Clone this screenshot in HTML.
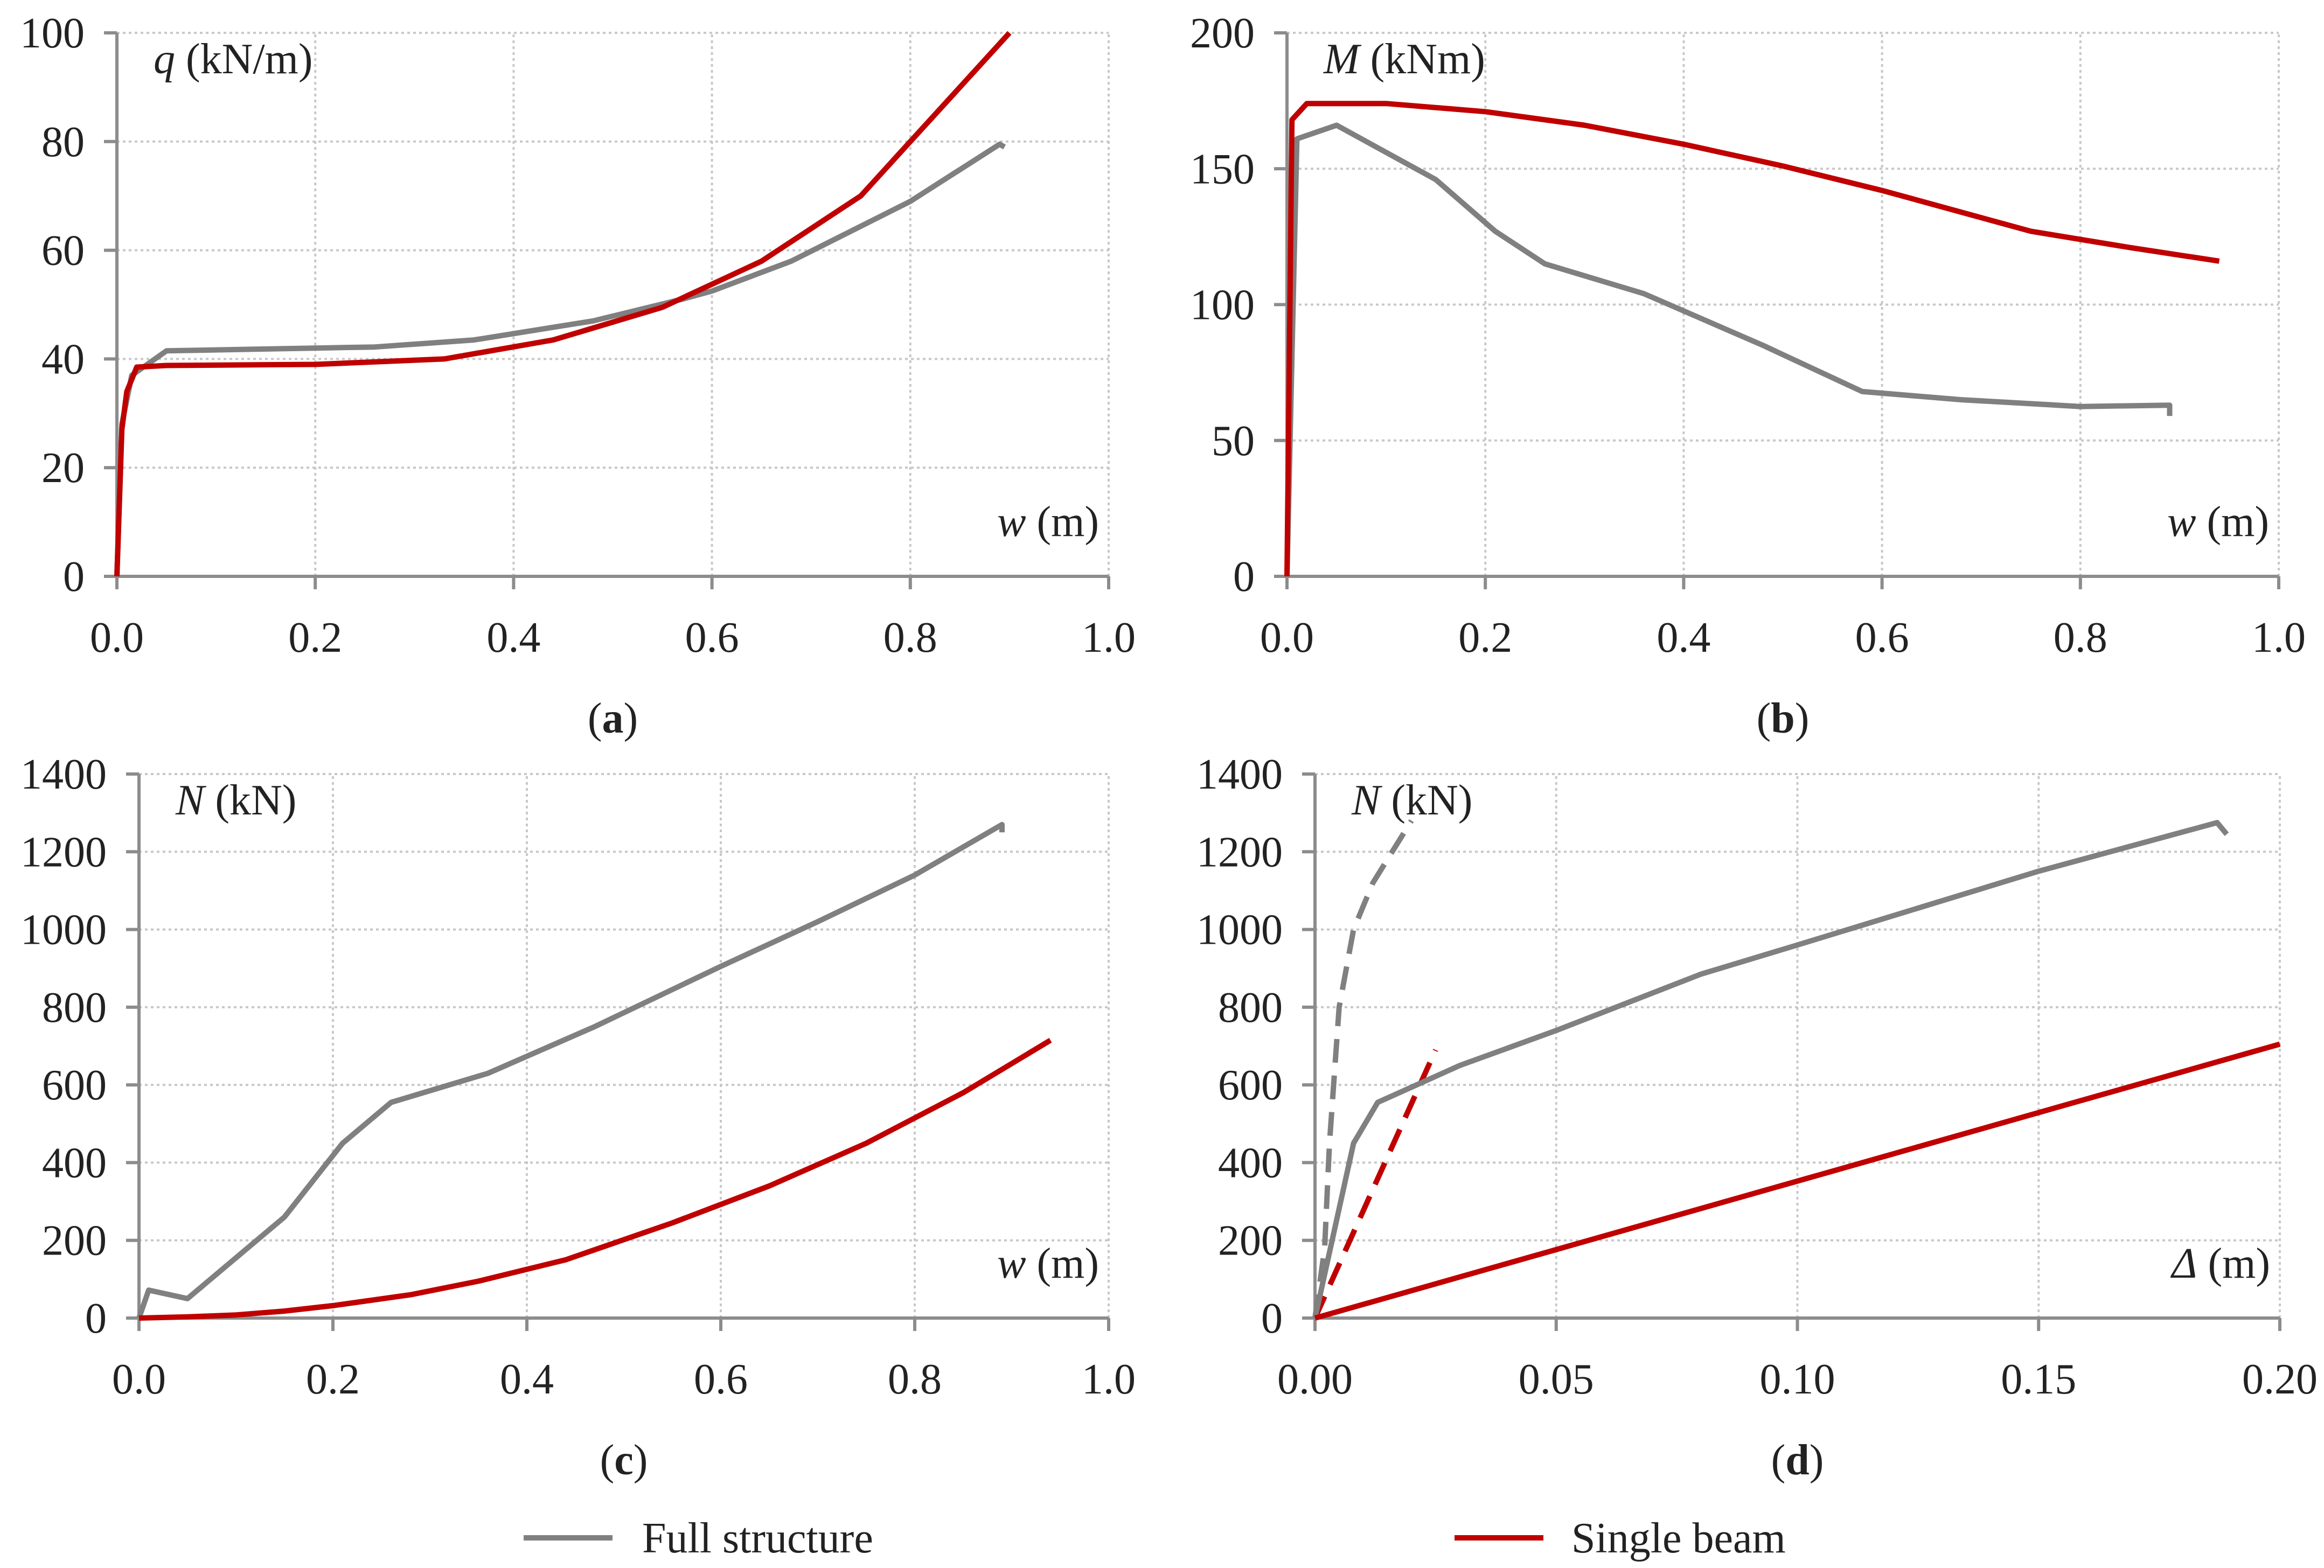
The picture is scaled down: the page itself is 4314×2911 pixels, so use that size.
<!DOCTYPE html>
<html><head><meta charset="utf-8"><style>
html,body{margin:0;padding:0;background:#fff}
svg{display:block;font-family:"Liberation Serif",serif}
</style></head><body>
<svg id="fig" width="4314" height="2911" viewBox="0 0 4314 2911" xmlns="http://www.w3.org/2000/svg">
<g id="legend">
<line x1="972" y1="2855" x2="1137" y2="2855" stroke="#808080" stroke-width="10"/>
<text x="1192" y="2882" font-size="80" fill="#222">Full structure</text>
<line x1="2700" y1="2855" x2="2865" y2="2855" stroke="#c00000" stroke-width="10"/>
<text x="2917" y="2882" font-size="80" fill="#222">Single beam</text>
</g>
</svg>
<script>
// Panel a
const aGrayX=[0,0.005,0.015,0.05,0.2,0.26,0.36,0.48,0.57,0.6,0.68,0.8,0.89,0.895];
const aGrayY=[0,28,37,41.5,42,42.2,43.5,47,51,52.5,58,69,79.5,79];
const aRedX=[0,0.005,0.01,0.02,0.05,0.2,0.33,0.44,0.55,0.65,0.75,0.8,0.9];
const aRedY=[0,27,34,38.5,38.8,39,40,43.5,49.5,58,70,80,100];
// Panel b
const bGrayX=[0,0.01,0.05,0.15,0.21,0.26,0.36,0.48,0.58,0.68,0.8,0.89,0.89];
const bGrayY=[0,161,166,146,127,115,104,85,68,65,62.5,63,59];
const bRedX=[0,0.005,0.02,0.1,0.2,0.3,0.4,0.5,0.6,0.75,0.85,0.94];
const bRedY=[0,168,174,174,171,166,159,151,142,127,121,116];
// Panel c
const cGrayX=[0,0.01,0.05,0.15,0.21,0.26,0.36,0.47,0.6,0.7,0.8,0.89,0.89];
const cGrayY=[0,72,50,260,450,555,630,750,905,1020,1140,1270,1250];
const cRedX=[0,0.05,0.1,0.15,0.2,0.28,0.35,0.44,0.55,0.65,0.75,0.85,0.94];
const cRedY=[0,3,8,18,32,60,95,150,245,340,450,580,715];
// Panel d
const dGrayX=[0,0.008,0.013,0.03,0.05,0.08,0.1,0.15,0.187,0.189];
const dGrayY=[0,450,555,650,740,885,960,1150,1275,1245];
const dGrayDashX=[0,0.002,0.003,0.005,0.008,0.012,0.02];
const dGrayDashY=[0,180,450,800,1000,1120,1280];
const dRedDashX=[0,0.025];
const dRedDashY=[0,690];
const dRedX=[0,0.2];
const dRedY=[0,705];
// ticks
const xTicksW=["0.0","0.2","0.4","0.6","0.8","1.0"];
const xTicksD=["0.00","0.05","0.10","0.15","0.20"];
const yTicksA=["0","20","40","60","80","100"];
const yTicksB=["0","50","100","150","200"];
const yTicksN=["0","200","400","600","800","1000","1200","1400"];

const NS="http://www.w3.org/2000/svg";
const svg=document.getElementById('fig');
function mk(tag,attrs,parent){const e=document.createElementNS(NS,tag);for(const k in attrs)e.setAttribute(k,attrs[k]);(parent||svg).appendChild(e);return e;}

function panel(p){
  const g=mk('g',{});
  
  
  const xmax=parseFloat(p.xt[p.xt.length-1]), ymax=parseFloat(p.yt[p.yt.length-1]);
  const sx=v=>p.x0+(v/xmax)*(p.x1-p.x0);
  const sy=v=>p.y0-(v/ymax)*(p.y0-p.y1);
  p.xt.forEach(t=>{const v=parseFloat(t);if(v>0){const l=mk('line',{x1:sx(v),x2:sx(v),y1:p.y0,y2:p.y1,stroke:'#c8c8c8','stroke-width':4,'stroke-dasharray':'5,6'},g);}});
  p.yt.forEach(t=>{const v=parseFloat(t);if(v>0){const l=mk('line',{x1:p.x0,x2:p.x1,y1:sy(v),y2:sy(v),stroke:'#c8c8c8','stroke-width':4,'stroke-dasharray':'5,6'},g);}});
  let a=mk('line',{x1:p.x0,x2:p.x1,y1:p.y0,y2:p.y0,stroke:'#8c8c8c','stroke-width':6},g);
  
  a=mk('line',{x1:p.x0,x2:p.x0,y1:p.y0,y2:p.y1,stroke:'#8c8c8c','stroke-width':6},g);
  
  p.xt.forEach(t=>{const v=parseFloat(t);
    mk('line',{x1:sx(v),x2:sx(v),y1:p.y0,y2:p.y0+24,stroke:'#8c8c8c','stroke-width':6},g);
    const tx=mk('text',{x:sx(v),y:p.y0+140,'font-size':80,'text-anchor':'middle',fill:'#222'},g);
    tx.textContent=t;});
  p.yt.forEach(t=>{const v=parseFloat(t);
    mk('line',{x1:p.x0-24,x2:p.x0,y1:sy(v),y2:sy(v),stroke:'#8c8c8c','stroke-width':6},g);
    const tx=mk('text',{x:p.x0-60,y:sy(v)+27,'font-size':80,'text-anchor':'end',fill:'#222'},g);
    tx.textContent=t;});
  p.series.forEach(s=>{
    const d=s.x.map((v,i)=>(i?'L':'M')+sx(v).toFixed(1)+','+sy(s.y[i]).toFixed(1)).join(' ');
    const pa=mk('path',{d:d,fill:'none',stroke:s.c,'stroke-width':10,'stroke-linejoin':'round','stroke-dasharray':s.dash||'none'},g);
    
  });
  let t=mk('text',{x:p.x0+68,y:p.y1+75,'font-size':80,fill:'#222'},g);
  
  t.innerHTML='<tspan font-style="italic">'+p.yl[0]+'</tspan> '+p.yl[1];
  t=mk('text',{x:p.x1-18,y:p.y0-75,'font-size':80,fill:'#222','text-anchor':'end'},g);
  
  t.innerHTML='<tspan font-style="italic">'+p.xl[0]+'</tspan> '+p.xl[1];
  t=mk('text',{x:(p.x0+p.x1)/2,y:p.y0+290,'font-size':80,fill:'#222','text-anchor':'middle'},g);
  
  t.innerHTML='(<tspan font-weight="bold">'+p.id+'</tspan>)';
}
const G='#808080',R='#c00000';
panel({id:'a',x0:217,x1:2058,y0:1070,y1:61,xt:xTicksW,yt:yTicksA,yl:['q','(kN/m)'],xl:['w','(m)'],
 series:[{name:'full-structure-line',x:aGrayX,y:aGrayY,c:G},{name:'single-beam-line',x:aRedX,y:aRedY,c:R}]});
panel({id:'b',x0:2389,x1:4230,y0:1070,y1:61,xt:xTicksW,yt:yTicksB,yl:['M','(kNm)'],xl:['w','(m)'],
 series:[{name:'full-structure-line',x:bGrayX,y:bGrayY,c:G},{name:'single-beam-line',x:bRedX,y:bRedY,c:R}]});
panel({id:'c',x0:258,x1:2058,y0:2447,y1:1437,xt:xTicksW,yt:yTicksN,yl:['N','(kN)'],xl:['w','(m)'],
 series:[{name:'full-structure-line',x:cGrayX,y:cGrayY,c:G},{name:'single-beam-line',x:cRedX,y:cRedY,c:R}]});
panel({id:'d',x0:2441,x1:4232,y0:2447,y1:1437,xt:xTicksD,yt:yTicksN,yl:['N','(kN)'],xl:['Δ','(m)'],
 series:[{name:'full-structure-dashed-line',x:dGrayDashX,y:dGrayDashY,c:G,dash:'44,24'},
         {name:'single-beam-dashed-line',x:dRedDashX,y:dRedDashY,c:R,dash:'44,24'},
         {name:'full-structure-line',x:dGrayX,y:dGrayY,c:G},{name:'single-beam-line',x:dRedX,y:dRedY,c:R}]});
</script>
</body></html>
